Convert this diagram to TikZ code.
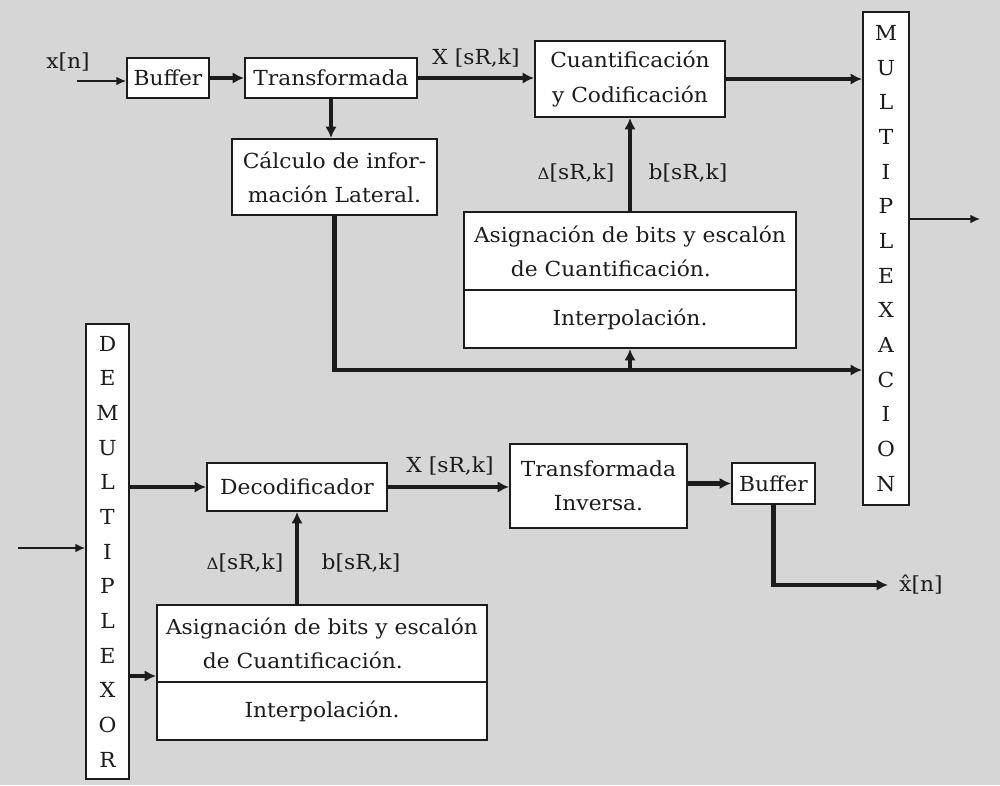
\documentclass[tikz,border=0pt]{standalone}
\usepackage{fontspec}
\setmainfont{DejaVu Serif}[FakeStretch=1.05]
\usetikzlibrary{arrows.meta,calc}
\definecolor{bg}{RGB}{214,214,214}
\definecolor{ink}{RGB}{28,28,28}
\tikzset{
  box/.style={draw=ink, line width=1.1pt, fill=white, inner sep=0pt, align=center,
              text=ink, font=\fontsize{11.8}{19.5}\selectfont},
  sz/.style 2 args={minimum width=#1*0.02cm, minimum height=#2*0.02cm},
  letters/.style={font=\fontsize{11.8}{19.73}\selectfont},
  bigflow/.style={draw=ink, line width=2.4pt, line join=miter, -{Latex[length=6.5pt,width=6.5pt]}},
  thinflow/.style={draw=ink, line width=0.85pt, -{Latex[length=5.5pt,width=5pt]}},
  lab/.style={text=ink, font=\fontsize{11.8}{13}\selectfont, inner sep=0pt},
}
\newcommand{\dlt}{{\fontsize{9}{9}\selectfont Δ}}
\begin{document}
\begin{tikzpicture}[x=0.02cm,y=-0.02cm]
\fill[bg] (0,0) rectangle (1000,785);
\useasboundingbox (0,0) rectangle (1000,785);

% encoder
\node[box, sz={82}{40}] (buf1) at (168,78) {Buffer};
\node[box, sz={172}{40}] (trans) at (331,78) {Transformada};
\node[box, sz={190}{76}] (cuant) at (630,79) {Cuantificación\\y Codificación};
\node[box, letters, sz={46}{493}] (mux) at (886,258.5) {M\\U\\L\\T\\I\\P\\L\\E\\X\\A\\C\\I\\O\\N};
\node[box, sz={205}{76}] (calc) at (334.5,177) {Cálculo de infor-\\mación Lateral.};
\node[box, sz={332}{78}, align=left] (asig1a) at (630,251) {Asignación de bits y escalón\\\hspace*{21pt}de Cuantificación.};
\node[box, sz={332}{58}] (asig1b) at (630,319) {Interpolación.};

% decoder
\node[box, letters, sz={43}{455}] (demux) at (107.5,551.5) {D\\E\\M\\U\\L\\T\\I\\P\\L\\E\\X\\O\\R};
\node[box, sz={180}{48}] (decod) at (297,487) {Decodificador};
\node[box, sz={177}{84}] (tinv) at (598.5,486) {Transformada\\Inversa.};
\node[box, sz={83}{41}] (buf2) at (773.5,483.5) {Buffer};
\node[box, sz={330}{77}, align=left] (asig2a) at (322,643.5) {Asignación de bits y escalón\\\hspace*{21pt}de Cuantificación.};
\node[box, sz={330}{58}] (asig2b) at (322,711) {Interpolación.};

% labels
\node[lab] (xin) at (68,62) {x[n]};
\node[lab] (xk1) at (476,58) {X [sR,k]};
\node[lab] (d1) at (576,173) {\dlt[sR,k]};
\node[lab] (b1) at (688,173) {b[sR,k]};
\node[lab] (xk2) at (450,466) {X [sR,k]};
\node[lab] (d2) at (245,563) {\dlt[sR,k]};
\node[lab] (b2) at (361,563) {b[sR,k]};
\node[lab] (xout) at (921,585) {x̂[n]};

% free ends
\coordinate (inT) at (77,81);
\coordinate (outT) at (980,219);
\coordinate (busL) at (332,370);
\coordinate (inB) at (18,548);
\coordinate (outB) at (888,585);
\coordinate (dmx) at (130,676);

% connectors encoder
\draw[thinflow] (inT) -- (inT -| buf1.west);
\draw[bigflow] (buf1.east) -- (trans.west);
\draw[bigflow] (trans.east) -- (trans.east -| cuant.west);
\draw[bigflow] (cuant.east) -- (cuant.east -| mux.west);
\draw[thinflow] (mux.east |- outT) -- (outT);
\draw[bigflow] (trans.south) -- (trans.south |- calc.north);
\draw[bigflow] (calc.south) -- (calc.south |- busL) -- (busL -| mux.west);
\draw[bigflow] (asig1b.south |- busL) -- (asig1b.south);
\draw[bigflow] (asig1a.north) -- (cuant.south);

% connectors decoder
\draw[thinflow] (inB) -- (inB -| demux.west);
\draw[bigflow] (demux.east |- decod.west) -- (decod.west);
\draw[bigflow] (decod.east) -- (decod.east -| tinv.west);
\draw[bigflow] (tinv.east |- buf2.west) -- (buf2.west);
\draw[bigflow] (buf2.south) |- (outB);
\draw[bigflow] (decod.south |- asig2a.north) -- (decod.south);
\draw[bigflow] (demux.east |- dmx) -- (dmx -| asig2a.west);
\end{tikzpicture}
\end{document}
